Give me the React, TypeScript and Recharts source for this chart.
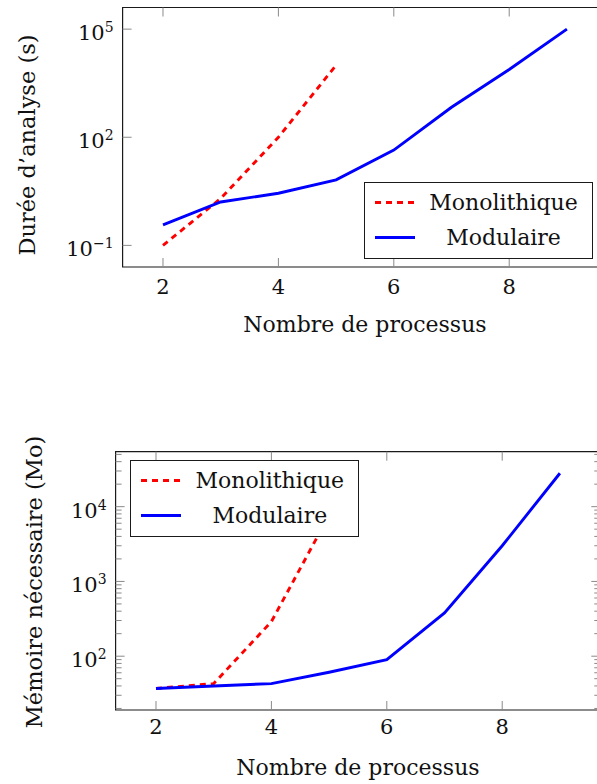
import React from 'react';
import { Legend, Line, LineChart, ReferenceArea, XAxis, YAxis } from 'recharts';

// nombre de processus (axe x commun)
const processCounts = [2, 3, 4, 5, 6, 7, 8, 9];
const xTicks = [2, 4, 6, 8];

// durée d'analyse (s)
const durationMonolithic = [0.1, 2, 100, 10000];
const durationModular = [0.37, 1.6, 2.8, 6.6, 44, 680, 7600, 100000];
const durationTicks = [0.1, 100, 100000];

// mémoire nécessaire (Mo)
const memoryMonolithic = [37, 43, 290, 7700];
const memoryModular = [37, 40, 43, 61, 90, 380, 3000, 28000];
const memoryMajorTicks = [100, 1000, 10000];

const seriesNames = ['Monolithique', 'Modulaire'];

const FONT = '"DejaVu Serif", "Liberation Serif", serif';
const TICK_GRAY = '#8a8a8a';
const LINE_W = 2.9;

type Geom = {
  width: number;
  height: number;
  left: number;
  top: number;
  right: number;
  bottom: number;
  xLabelGap: number;
  xTitleY: number;
  yTitleX: number;
  yTitleY: number;
  legendLeft: number;
  legendTop: number;
};

const buildRows = (mono: number[], mod: number[]) =>
  processCounts.map((x, i) => ({ x, mono: mono[i], mod: mod[i] }));

// pgfplots-like enlarge limits (10%)
const linDomain = (vals: number[]): [number, number] => {
  const lo = Math.min(...vals);
  const hi = Math.max(...vals);
  const pad = (hi - lo) * 0.1;
  return [lo - pad, hi + pad];
};

const logDomain = (vals: number[]): [number, number] => {
  const lo = Math.log10(Math.min(...vals));
  const hi = Math.log10(Math.max(...vals));
  const pad = (hi - lo) * 0.1;
  return [Math.pow(10, lo - pad), Math.pow(10, hi + pad)];
};

const minorLogTicks = (domain: [number, number]) => {
  const out: number[] = [];
  const e0 = Math.floor(Math.log10(domain[0]));
  const e1 = Math.ceil(Math.log10(domain[1]));
  for (let e = e0; e <= e1; e++) {
    for (let k = 1; k <= 9; k++) {
      const v = k * Math.pow(10, e);
      if (v >= domain[0] && v <= domain[1]) out.push(v);
    }
  }
  return out;
};

const XTick = (props: any) => {
  const { x, payload, g } = props;
  return (
    <g>
      <line x1={x} x2={x} y1={g.bottom} y2={g.bottom - 9} stroke={TICK_GRAY} strokeWidth={1} />
      <line x1={x} x2={x} y1={g.top} y2={g.top + 9} stroke={TICK_GRAY} strokeWidth={1} />
      <text x={x} y={g.bottom + g.xLabelGap} textAnchor="middle" fontFamily={FONT} fontSize={21} fill="#111">
        {payload.value}
      </text>
    </g>
  );
};

const YTick = (props: any) => {
  const { y, payload, g, majors } = props;
  const v = payload.value as number;
  const isMajor = majors.some((m: number) => Math.abs(m - v) / m < 1e-6);
  const len = isMajor ? 9 : 6;
  const exp = Math.round(Math.log10(v));
  return (
    <g>
      <line x1={g.left} x2={g.left + len} y1={y} y2={y} stroke={TICK_GRAY} strokeWidth={1} />
      <line x1={g.right - len} x2={g.right} y1={y} y2={y} stroke={TICK_GRAY} strokeWidth={1} />
      {isMajor && (
        <text x={g.left - 9} y={y + 11} textAnchor="end" fontFamily={FONT} fontSize={21} fill="#111">
          <tspan>10</tspan>
          <tspan dy={-8} fontSize={14}>
            {exp < 0 ? `\u2212${-exp}` : `${exp}`}
          </tspan>
        </text>
      )}
    </g>
  );
};

const YTitle = ({ cx, cy, text }: { cx: number; cy: number; text: string }) => (
  <text
    x={cx}
    y={cy}
    transform={`rotate(-90 ${cx} ${cy})`}
    textAnchor="middle"
    dominantBaseline="central"
    fontFamily={FONT}
    fontSize={22.5}
    fill="#111"
  >
    {text}
  </text>
);

const XTitle = ({ cx, cy, text }: { cx: number; cy: number; text: string }) => (
  <text x={cx} y={cy} textAnchor="middle" fontFamily={FONT} fontSize={22} fill="#111">
    {text}
  </text>
);

const LegendBox = () => (
  <div
    style={{
      position: 'relative',
      width: 229,
      height: 77,
      boxSizing: 'border-box',
      border: '1.2px solid #1a1a1a',
      background: '#fff',
      fontFamily: FONT,
      fontSize: 22,
      color: '#111',
    }}
  >
    {seriesNames.map((name, i) => (
      <div key={name} style={{ position: 'absolute', left: 0, top: i === 0 ? 2 : 37, width: 229, height: 35 }}>
        <svg width={56} height={35} style={{ position: 'absolute', left: 0, top: 0 }}>
          <line
            x1={10}
            x2={50}
            y1={17.5}
            y2={17.5}
            stroke={i === 0 ? '#ff0000' : '#0000ff'}
            strokeWidth={LINE_W}
            strokeDasharray={i === 0 ? '6 5' : undefined}
          />
        </svg>
        <div
          style={{
            position: 'absolute',
            left: 60,
            width: 157,
            top: 0,
            height: 35,
            lineHeight: '35px',
            textAlign: 'center',
            whiteSpace: 'nowrap',
          }}
        >
          {name}
        </div>
      </div>
    ))}
  </div>
);

type PanelProps = {
  rows: { x: number; mono?: number; mod?: number }[];
  yDomain: [number, number];
  yTicks: number[];
  majors: number[];
  yTitle: string;
  g: Geom;
};

const Panel = ({ rows, yDomain, yTicks, majors, yTitle, g }: PanelProps) => {
  const xDomain = linDomain(processCounts);
  return (
    <LineChart
      width={g.width}
      height={g.height}
      data={rows}
      margin={{ top: g.top, right: g.width - g.right, bottom: 0, left: 0 }}
    >
      <XAxis
        dataKey="x"
        type="number"
        domain={xDomain}
        allowDataOverflow
        ticks={xTicks}
        interval={0}
        height={g.height - g.bottom}
        axisLine={false}
        tickLine={false}
        tick={(p: any) => <XTick {...p} g={g} />}
        label={<XTitle cx={(g.left + g.right) / 2} cy={g.xTitleY} text="Nombre de processus" />}
      />
      <YAxis
        type="number"
        scale="log"
        domain={yDomain}
        allowDataOverflow
        ticks={yTicks}
        interval={0}
        width={g.left}
        axisLine={false}
        tickLine={false}
        tick={(p: any) => <YTick {...p} g={g} majors={majors} />}
        label={<YTitle cx={g.yTitleX} cy={g.yTitleY} text={yTitle} />}
      />
      <ReferenceArea
        x1={xDomain[0]}
        x2={xDomain[1]}
        y1={yDomain[0]}
        y2={yDomain[1]}
        fill="none"
        fillOpacity={0}
        stroke="#1a1a1a"
        strokeWidth={1.2}
        ifOverflow="visible"
      />
      <Line
        dataKey="mono"
        name={seriesNames[0]}
        type="linear"
        stroke="#ff0000"
        strokeWidth={LINE_W}
        strokeDasharray="6 5"
        dot={false}
        isAnimationActive={false}
      />
      <Line
        dataKey="mod"
        name={seriesNames[1]}
        type="linear"
        stroke="#0000ff"
        strokeWidth={LINE_W}
        dot={false}
        isAnimationActive={false}
      />
      <Legend
        layout="vertical"
        align="center"
        verticalAlign="middle"
        wrapperStyle={{ left: g.legendLeft, top: g.legendTop, width: 229, height: 77 }}
        content={() => <LegendBox />}
      />
    </LineChart>
  );
};

const durationGeom: Geom = {
  width: 620,
  height: 345,
  left: 122.6,
  top: 7.5,
  right: 607.3,
  bottom: 267,
  xLabelGap: 27,
  xTitleY: 332,
  yTitleX: 27,
  yTitleY: 145,
  legendLeft: 364,
  legendTop: 181.5,
};

const memoryGeom: Geom = {
  width: 620,
  height: 354,
  left: 115.6,
  top: 21.7,
  right: 600.3,
  bottom: 280,
  xLabelGap: 24,
  xTitleY: 345,
  yTitleX: 34,
  yTitleY: 152,
  legendLeft: 130.3,
  legendTop: 30,
};

export default function App() {
  const durationDomain = logDomain([...durationMonolithic, ...durationModular]);
  const memoryDomain = logDomain([...memoryMonolithic, ...memoryModular]);

  return (
    <div
      style={{
        position: 'absolute',
        left: 0,
        top: 0,
        width: 597,
        height: 784,
        overflow: 'hidden',
        background: '#fff',
      }}
    >
      <div style={{ position: 'absolute', left: 0, top: 0 }}>
        <Panel
          rows={buildRows(durationMonolithic, durationModular)}
          yDomain={durationDomain}
          yTicks={durationTicks}
          majors={durationTicks}
          yTitle="Durée d’analyse (s)"
          g={durationGeom}
        />
      </div>
      <div style={{ position: 'absolute', left: 0, top: 430 }}>
        <Panel
          rows={buildRows(memoryMonolithic, memoryModular)}
          yDomain={memoryDomain}
          yTicks={minorLogTicks(memoryDomain)}
          majors={memoryMajorTicks}
          yTitle="Mémoire nécessaire (Mo)"
          g={memoryGeom}
        />
      </div>
    </div>
  );
}
